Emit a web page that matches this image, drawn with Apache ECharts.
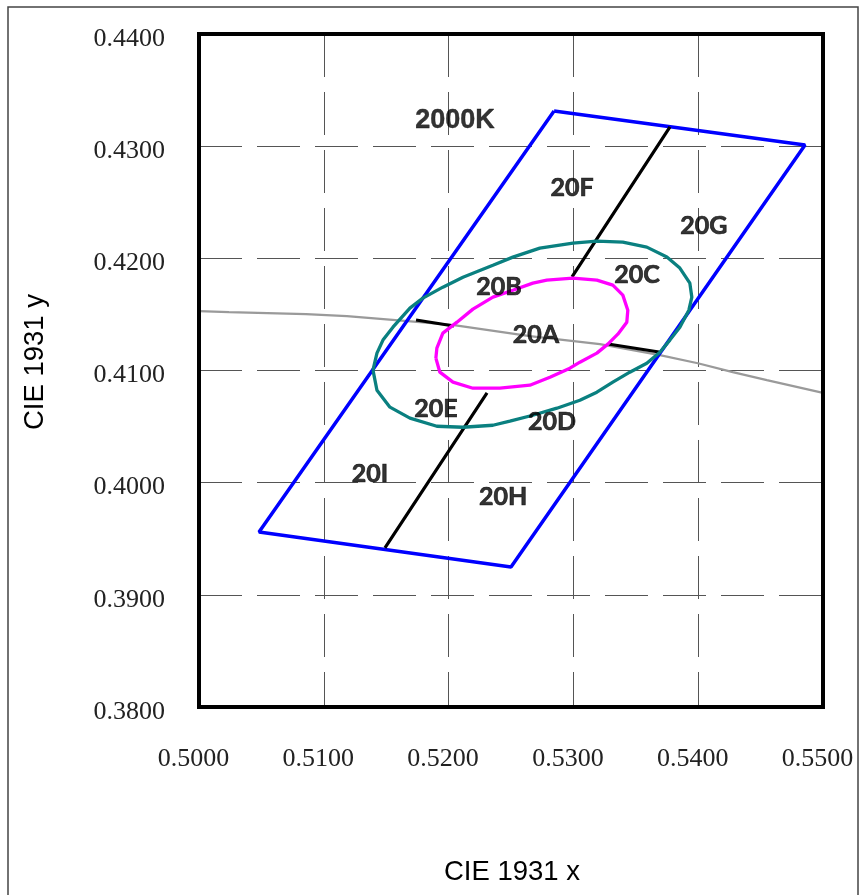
<!DOCTYPE html>
<html>
<head>
<meta charset="utf-8">
<script src="https://cdn.jsdelivr.net/npm/echarts@6/dist/echarts.min.js"></script>
<style>
  html, body { margin: 0; padding: 0; background: #fff; }
  #chart { width: 859px; height: 895px; }
</style>
</head>
<body>
<div id="chart"></div>
<script>
// Axis ticks (CIE 1931 chromaticity)
const xTicks = [0.50, 0.51, 0.52, 0.53, 0.54, 0.55];
const yTicks = [0.38, 0.39, 0.40, 0.41, 0.42, 0.43, 0.44];

// 2000K quadrangle corners (closed)
const quadrangle = [
  [0.52845, 0.43314], [0.54856, 0.43010], [0.52500, 0.39248],
  [0.50481, 0.39560], [0.52845, 0.43314]
];

// Dividing lines inside the quadrangle
const dividerTop    = [[0.53774, 0.43171], [0.52989, 0.41834]];
const dividerBottom = [[0.52308, 0.40800], [0.51490, 0.39418]];
const dividerLeft   = [[0.51739, 0.41450], [0.52043, 0.41397]];
const dividerRight  = [[0.53277, 0.41236], [0.53686, 0.41165]];

// Planckian locus segment
const planckian = [
  [0.50000, 0.41529], [0.50240, 0.41520], [0.50857, 0.41502], [0.51185, 0.41485],
  [0.51770, 0.41431], [0.52043, 0.41404], [0.52651, 0.41306], [0.53212, 0.41235],
  [0.53693, 0.41137], [0.53997, 0.41065], [0.54277, 0.40985], [0.54550, 0.40914],
  [0.55000, 0.40800]
];

// Outer tolerance contour (teal)
const outerContour = [
  [0.51394, 0.41003], [0.51426, 0.41155], [0.51474, 0.41271], [0.51554, 0.41386],
  [0.51690, 0.41556], [0.51794, 0.41645], [0.51954, 0.41743], [0.52115, 0.41832],
  [0.52355, 0.41939], [0.52515, 0.42011], [0.52731, 0.42091], [0.52996, 0.42136],
  [0.53188, 0.42154], [0.53396, 0.42145], [0.53588, 0.42100], [0.53749, 0.42011],
  [0.53853, 0.41913], [0.53933, 0.41779], [0.53949, 0.41654], [0.53925, 0.41538],
  [0.53853, 0.41386], [0.53773, 0.41271], [0.53693, 0.41163], [0.53588, 0.41065],
  [0.53452, 0.40985], [0.53316, 0.40896], [0.53188, 0.40807], [0.53052, 0.40735],
  [0.52868, 0.40664], [0.52675, 0.40601], [0.52491, 0.40548], [0.52355, 0.40512],
  [0.52115, 0.40494], [0.51906, 0.40503], [0.51690, 0.40575], [0.51530, 0.40673],
  [0.51426, 0.40824], [0.51394, 0.41003]
];

// Inner tolerance contour (magenta)
const innerContour = [
  [0.51898, 0.41110], [0.51906, 0.41199], [0.51954, 0.41333], [0.52067, 0.41431],
  [0.52195, 0.41547], [0.52355, 0.41654], [0.52515, 0.41716], [0.52675, 0.41779],
  [0.52787, 0.41806], [0.52996, 0.41824], [0.53188, 0.41806], [0.53316, 0.41761],
  [0.53396, 0.41672], [0.53436, 0.41538], [0.53428, 0.41431], [0.53356, 0.41324],
  [0.53276, 0.41235], [0.53188, 0.41155], [0.53052, 0.41074], [0.52972, 0.41021],
  [0.52812, 0.40940], [0.52651, 0.40869], [0.52411, 0.40842], [0.52195, 0.40842],
  [0.52035, 0.40896], [0.51930, 0.40985], [0.51898, 0.41110]
];

// Region names and where they sit
const regionNames = ['20F', '20G', '20B', '20C', '20A', '20E', '20D', '20I', '20H'];
const regionPos = [
  [0.52989, 0.42627], [0.54046, 0.42288], [0.52404, 0.41744], [0.53510, 0.41851],
  [0.52700, 0.41317], [0.51899, 0.40657], [0.52829, 0.40541], [0.51370, 0.40077],
  [0.52436, 0.39872]
];
const cctName = '2000K';
const cctPos = [0.52051, 0.43224];

const chart = echarts.init(document.getElementById('chart'), null, { renderer: 'canvas' });

function segments(...parts) {
  const out = [];
  parts.forEach((p, i) => { if (i) out.push([null, null]); out.push(...p); });
  return out;
}

const gridDash = { color: '#555', width: 1, type: [43, 15] };
const tickFont = { fontFamily: 'Liberation Serif', fontSize: 26, color: '#222' };

chart.setOption({
  animation: false,
  backgroundColor: '#fff',
  graphic: [
    { type: 'rect', shape: { x: 8, y: 7, width: 850, height: 900 },
      style: { fill: 'none', stroke: '#444', lineWidth: 1.5 }, z: -10 },
    { type: 'text', x: 512, y: 872,
      style: { text: 'CIE 1931 x', font: '27.5px "Liberation Sans"', fill: '#000', align: 'center', verticalAlign: 'middle' } },
    { type: 'text', x: 35, y: 362, rotation: Math.PI / 2,
      style: { text: 'CIE 1931 y', font: '27.5px "Liberation Sans"', fill: '#000', align: 'center', verticalAlign: 'middle' } }
  ],
  grid: { left: 199, top: 34, width: 624, height: 673, show: true, borderColor: '#000', borderWidth: 4, z: 5 },
  xAxis: {
    type: 'value', min: xTicks[0], max: xTicks[xTicks.length - 1], interval: 0.01,
    axisLine: { show: false }, axisTick: { show: false },
    splitLine: { show: true, lineStyle: gridDash },
    axisLabel: Object.assign({ margin: 39, padding: [0, 11, 0, 0], formatter: v => v.toFixed(4) }, tickFont)
  },
  yAxis: {
    type: 'value', min: yTicks[0], max: yTicks[yTicks.length - 1], interval: 0.01,
    axisLine: { show: false }, axisTick: { show: false },
    splitLine: { show: true, lineStyle: gridDash },
    axisLabel: Object.assign({ margin: 34, verticalAlign: 'top', lineHeight: 10, formatter: v => v.toFixed(4) }, tickFont)
  },
  series: [
    { type: 'line', data: planckian, showSymbol: false, silent: true,
      lineStyle: { color: '#9a9a9a', width: 2.2 }, z: 2 },
    { type: 'line', data: quadrangle, showSymbol: false, silent: true,
      lineStyle: { color: '#0000ff', width: 3.5 }, z: 3 },
    { type: 'line', data: segments(dividerTop, dividerBottom, dividerLeft, dividerRight),
      showSymbol: false, connectNulls: false, silent: true,
      lineStyle: { color: '#000', width: 3.2 }, z: 3 },
    { type: 'line', data: outerContour, showSymbol: false, silent: true,
      lineStyle: { color: '#0a8080', width: 3.3 }, z: 4 },
    { type: 'line', data: innerContour, showSymbol: false, silent: true,
      lineStyle: { color: '#ff00ff', width: 3.3 }, z: 4 },
    { type: 'scatter', symbolSize: 0, silent: true, z: 6,
      data: regionPos.map((p, i) => ({ value: p, name: regionNames[i] })),
      label: { show: true, position: 'inside', formatter: '{b}',
        fontFamily: 'Lato', fontWeight: 'bold', fontSize: 25, color: '#000',
        textBorderColor: '#000', textBorderWidth: 0.7 } },
    { type: 'scatter', symbolSize: 0, silent: true, z: 6,
      data: [{ value: cctPos, name: cctName }],
      label: { show: true, position: 'inside', formatter: '{b}',
        fontFamily: 'Liberation Sans', fontWeight: 'bold', fontSize: 27, color: '#000',
        textBorderColor: '#000', textBorderWidth: 0.4 } }
  ]
});
</script>
</body>
</html>
